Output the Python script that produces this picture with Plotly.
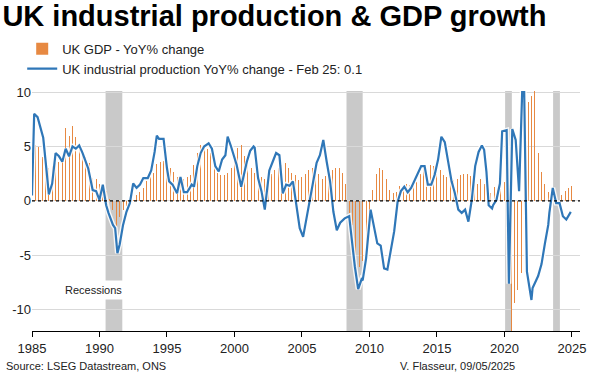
import plotly.graph_objects as go

# ---------------- data ----------------
gdp_years = list(range(1985, 2025))
gdp_yoy = [
    5.1, 5.0, 4.0, 3.6,    # 1985
    3.0, 3.2, 3.5, 3.6,    # 1986
    3.8, 6.7, 6.0, 6.9,    # 1987
    5.9, 5.0, 4.7, 4.0,    # 1988
    3.5, 2.1, 2.0, 1.6,    # 1989
    1.2, 0.9, 0.2, -0.8,   # 1990
    -2.3, -1.5, -0.8, -0.5,  # 1991
    -0.4, 0.1, 0.5, 0.8,   # 1992
    1.2, 1.8, 2.2, 2.6,    # 1993
    3.4, 3.6, 3.7, 3.5,    # 1994
    3.0, 2.7, 2.2, 2.0,    # 1995
    2.0, 2.2, 2.4, 3.3,    # 1996
    4.4, 5.1, 4.9, 4.8,    # 1997
    4.4, 3.3, 2.6, 2.4,    # 1998
    2.4, 2.6, 3.0, 3.8,    # 1999
    4.9, 5.1, 4.1, 3.3,    # 2000
    3.0, 2.6, 2.4, 2.2,    # 2001
    2.0, 2.2, 2.5, 2.8,    # 2002
    3.0, 3.3, 3.5, 3.0,    # 2003
    2.6, 2.4, 1.9, 2.2,    # 2004
    2.5, 2.8, 3.0, 2.8,    # 2005
    2.5, 2.0, 2.3, 2.6,    # 2006
    2.8, 3.0, 3.0, 2.6,    # 2007
    1.6, -1.1, -2.2, -5.0,  # 2008
    -6.1, -5.5, -4.3, -1.0,  # 2009
    1.0, 2.5, 3.0, 2.8,    # 2010
    2.0, 1.0, 0.7, 0.8,    # 2011
    1.4, 1.2, 1.6, 1.5,    # 2012
    1.4, 1.7, 2.5, 3.0,    # 2013
    2.6, 3.3, 3.2, 2.5,    # 2014
    2.8, 2.4, 2.2, 2.0,    # 2015
    1.9, 2.0, 2.4, 2.5,    # 2016
    2.5, 2.3, 2.0, 1.6,    # 2017
    2.0, 1.6, 0.9, 0.7,    # 2018
    1.3, 1.0, 1.1, 1.7,    # 2019
    -2.2, -21.0, -9.4, -8.2,  # 2020
    -6.6, 24.0, 9.1, 9.6,  # 2021
    11.0, 4.4, 2.7, 1.6,   # 2022
    0.8, 0.3, 0.2, -0.1,   # 2023
    0.5, 0.9, 1.2, 1.4,    # 2024
]
quarter_ends = ["03-31", "06-30", "09-30", "12-31"]
gdp_dates = [f"{y}-{q}" for y in gdp_years for q in quarter_ends]

ip_dates = [
    "1985-01", "1985-03", "1985-06", "1985-11", "1986-02", "1986-04", "1986-07", "1986-10",
    "1987-01", "1987-04", "1987-07", "1987-10", "1988-01", "1988-04", "1988-07", "1988-10",
    "1989-03", "1989-05", "1989-07", "1989-10", "1990-01", "1990-04", "1990-07", "1990-09",
    "1991-01", "1991-03", "1991-05", "1991-07", "1991-10", "1992-01", "1992-04", "1992-07",
    "1992-10", "1993-01", "1993-04", "1993-08", "1993-11", "1994-02", "1994-04", "1994-06",
    "1994-10", "1995-01", "1995-03", "1995-06", "1995-10", "1996-01", "1996-04", "1996-07",
    "1996-11", "1997-01", "1997-04", "1997-07", "1997-10", "1998-02", "1998-05", "1998-08",
    "1998-11", "1999-02", "1999-05", "1999-07", "1999-10", "2000-03", "2000-07", "2000-12",
    "2001-03", "2001-06", "2001-07", "2001-10", "2002-01", "2002-04", "2002-08", "2002-11",
    "2003-02", "2003-05", "2003-08", "2003-11", "2004-02", "2004-05", "2004-07", "2004-11",
    "2005-02", "2005-05", "2005-08", "2005-11", "2006-02", "2006-05", "2006-08", "2006-11",
    "2007-02", "2007-05", "2007-08", "2007-11", "2008-03", "2008-07", "2008-09", "2008-12",
    "2009-03", "2009-06", "2009-07", "2009-10", "2010-02", "2010-05", "2010-08", "2010-11",
    "2011-02", "2011-05", "2011-08", "2011-11", "2012-02", "2012-05", "2012-08", "2012-11",
    "2013-02", "2013-05", "2013-08", "2013-11", "2014-02", "2014-05", "2014-08", "2014-11",
    "2015-02", "2015-05", "2015-08", "2015-11", "2016-02", "2016-05", "2016-08", "2016-11",
    "2017-02", "2017-05", "2017-08", "2017-11", "2018-02", "2018-05", "2018-07", "2018-09",
    "2018-11", "2019-02", "2019-03", "2019-06", "2019-09", "2019-11", "2020-03", "2020-05",
    "2020-08", "2020-11", "2021-02", "2021-06", "2021-09", "2022-01", "2022-02", "2022-07",
    "2022-10", "2023-01", "2023-04", "2023-05", "2023-08", "2023-11", "2024-02", "2024-05",
    "2024-08", "2024-12",
]
ip_yoy = [
    0.5, 8.0, 7.7, 5.8, 2.7, 0.6, 1.6, 4.4,
    4.1, 3.6, 4.8, 4.1, 5.0, 4.8, 5.1, 4.4,
    3.0, 2.1, 1.0, 0.9, 0.1, 1.5, -0.4, -1.1,
    -2.2, -2.5, -4.8, -4.0, -2.2, -1.0, -0.2, 1.6,
    1.2, 1.5, 2.1, 2.1, 2.8, 4.5, 6.0, 5.7,
    5.7, 3.0, 1.8, 1.5, 0.7, 2.2, 0.8, 0.8,
    1.5, 1.3, 3.2, 4.4, 5.0, 5.3, 4.8, 3.2,
    2.7, 3.8, 4.2, 5.9, 5.0, 3.3, 1.3, 3.6,
    4.6, 5.0, 4.9, 2.1, 0.9, -0.8, 2.8, 3.6,
    4.4, 4.2, 0.7, 1.5, 1.4, 1.8, 0.2, -2.5,
    -3.3, -1.6, -0.2, 1.9, 3.5, 4.2, 5.6, 3.6,
    1.8, -1.0, -2.7, -2.0, -1.6, -1.4, -3.4, -6.0,
    -8.1, -7.2, -7.3, -5.3, -0.8, -2.2, -3.9, -4.1,
    -6.2, -6.3, -4.6, -2.8, -0.1, 0.9, 1.3, 0.8,
    1.2, 1.9, 2.5, 3.2, 3.2, 1.5, 1.5, 2.4,
    3.8, 5.9, 5.4, 3.5, 1.8, 0.7, -0.8, -1.1,
    -0.8, -1.9, 0.1, 3.2, 4.5, 5.1, 4.7, 2.7,
    -0.4, -0.7, -0.4, 0.1, 1.6, 6.4, 6.5, -7.6,
    6.6, 5.6, 0.9, 14.0, -6.5, -9.1, -8.0, -6.9,
    -5.8, -3.9, -2.2, -1.1, 1.2, -0.2, -0.2, -1.4,
    -1.7, -1.0,
]

rec_start = ["1990-06-15", "2008-04-20", "2020-01-20", "2023-08-10"]
rec_end = ["1991-09-10", "2009-07-01", "2020-07-20", "2024-02-10"]

y_ticks = [-10, -5, 0, 5, 10]
y_tick_text = ["-10", "-5", "0", "5", "10"]
x_ticks = [f"{y}-01-01" for y in range(1985, 2026, 5)]
x_tick_text = [str(y) for y in range(1985, 2026, 5)]

FONT = "Arial, 'Liberation Sans', sans-serif"
ORANGE = "rgba(230,132,58,0.96)"
BLUE = "#2f77b8"

fig = go.Figure()

fig.add_trace(go.Bar(
    x=gdp_dates, y=gdp_yoy, name="UK GDP - YoY% change",
    marker=dict(color=ORANGE, line=dict(width=0)),
    width=27.06 * 86400000,
))
fig.add_trace(go.Scatter(
    x=ip_dates, y=ip_yoy, mode="lines", showlegend=False, hoverinfo="skip",
    line=dict(color="rgba(255,255,255,0.85)", width=5),
))
fig.add_trace(go.Scatter(
    x=ip_dates, y=ip_yoy, mode="lines",
    name="UK industrial production YoY% change - Feb 25: 0.1",
    line=dict(color=BLUE, width=2.2),
))

shapes = []
for s, e in zip(rec_start, rec_end):
    shapes.append(dict(type="rect", xref="x", yref="paper", x0=s, x1=e, y0=0, y1=1,
                       fillcolor="#c9c9c9", line=dict(width=0), layer="below"))
shapes.append(dict(type="line", xref="paper", yref="y", x0=0, x1=1, y0=0, y1=0,
                   line=dict(color="black", width=1.2, dash="dot"), layer="above"))
fig.update_layout(shapes=shapes)

fig.add_annotation(x="1989-07-20", y=-8.2, xref="x", yref="y", text="Recessions",
                   showarrow=False, bgcolor="white", borderpad=3,
                   font=dict(family=FONT, size=11, color="#222"))
fig.add_annotation(x=-0.051, y=-0.146, xref="paper", yref="paper", xanchor="left", yanchor="middle",
                   text="Source: LSEG Datastream, ONS", showarrow=False,
                   font=dict(family=FONT, size=11, color="#222"))
fig.add_annotation(x=0.885, y=-0.146, xref="paper", yref="paper", xanchor="right", yanchor="middle",
                   text="V. Flasseur, 09/05/2025", showarrow=False,
                   font=dict(family=FONT, size=11, color="#222"))

fig.update_layout(
    width=600, height=376,
    margin=dict(l=32, r=20, t=91, b=45, autoexpand=False),
    paper_bgcolor="white", plot_bgcolor="white",
    font=dict(family=FONT, size=13, color="#222"),
    title=dict(text="<b>UK industrial production & GDP growth</b>",
               x=0.004, xanchor="left", xref="container",
               y=0.985, yanchor="top", yref="container",
               font=dict(family=FONT, size=29, color="black")),
    legend=dict(x=0.037, y=0.91, xref="container", yref="container",
                xanchor="left", yanchor="top", orientation="v",
                font=dict(family=FONT, size=13, color="#222"),
                bgcolor="rgba(0,0,0,0)", tracegroupgap=0, itemwidth=30),
    bargap=0,
    showlegend=True,
)
fig.update_xaxes(
    type="date", range=["1985-01-01", "2025-08-07"],
    tickvals=x_ticks, ticktext=x_tick_text,
    showgrid=False, showline=True, linecolor="black", linewidth=1,
    ticks="outside", ticklen=5, tickcolor="black",
    tickfont=dict(family=FONT, size=13, color="#222"),
    zeroline=False,
)
fig.update_yaxes(
    range=[-11.95, 10.1], tickvals=y_ticks, ticktext=y_tick_text,
    showgrid=True, gridcolor="#d9d9d9", gridwidth=1,
    zeroline=False, showline=False, ticks="",
    tickfont=dict(family=FONT, size=13, color="#222"),
)

fig.write_html("out.html", config={"displayModeBar": False},
               post_script="document.body.style.margin='0';")
